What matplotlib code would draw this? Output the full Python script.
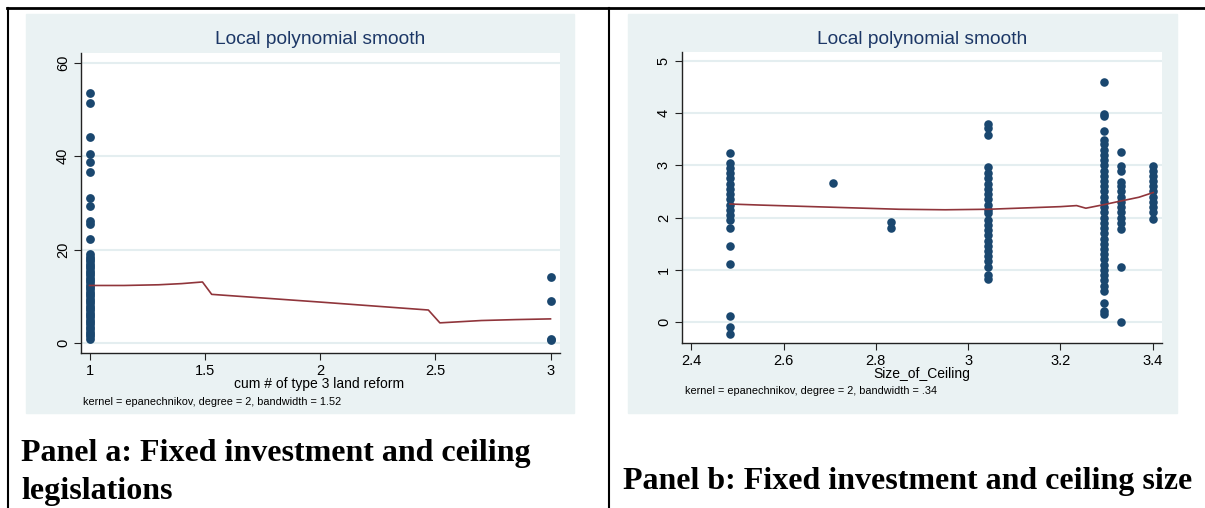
import matplotlib.pyplot as plt
from matplotlib.patches import Rectangle
from matplotlib.lines import Line2D

W, H = 1205, 508

# ---- panel a data (cum # of type 3 land reform) ----
a_x1_vals = [53.6, 51.5, 44.2, 40.5, 38.7, 36.6, 31.0, 29.4, 26.1, 25.6, 22.3,
             19.0, 18.5, 18.0, 17.5, 17.0, 16.5, 16.0, 15.5, 15.0, 14.5, 14.0,
             13.5, 13.0, 12.5, 12.0, 11.5, 11.0, 10.5, 10.0, 9.5, 9.0, 8.5, 8.0,
             7.5, 7.0, 6.5, 6.0, 5.5, 5.0, 4.5, 4.0, 3.5, 3.0, 2.5, 2.0, 1.5, 1.0]
a_x3_vals = [14.2, 9.1, 1.0, 0.7]
a_smooth_x = [1.0, 1.15, 1.3, 1.4, 1.49, 1.53, 2.0, 2.47, 2.52, 2.7, 2.85, 3.0]
a_smooth_y = [12.35, 12.35, 12.5, 12.75, 13.1, 10.45, 8.8, 7.1, 4.35, 4.85, 5.05, 5.2]
a_xticks = [1, 1.5, 2, 2.5, 3]
a_xticklabels = ["1", "1.5", "2", "2.5", "3"]
a_yticks = [0, 20, 40, 60]

# ---- panel b data (Size_of_Ceiling) ----
b_cols = {
    2.484: [3.23, 3.04, 2.95, 2.85, 2.75, 2.65, 2.55, 2.45, 2.35, 2.25, 2.15,
            2.05, 1.96, 1.81, 1.45, 1.11, 0.12, -0.10, -0.23],
    2.707: [2.67],
    2.833: [1.91, 1.81],
    3.044: [3.79, 3.71, 3.59, 2.96, 2.85, 2.75, 2.65, 2.55, 2.45, 2.35, 2.25,
            2.15, 2.08, 1.96, 1.86, 1.76, 1.66, 1.56, 1.46, 1.36, 1.26, 1.16,
            1.06, 0.90, 0.82],
    3.295: [4.59, 3.98, 3.94, 3.66, 3.49, 3.40, 3.30, 3.20, 3.10, 3.00, 2.90,
            2.80, 2.70, 2.60, 2.50, 2.40, 2.30, 2.20, 2.10, 2.00, 1.90, 1.80,
            1.70, 1.60, 1.50, 1.40, 1.30, 1.20, 1.10, 1.00, 0.90, 0.81, 0.69,
            0.60, 0.37, 0.22, 0.16],
    3.332: [3.25, 2.99, 2.90, 2.69, 2.60, 2.50, 2.40, 2.30, 2.20, 2.10, 2.00,
            1.90, 1.78, 1.06, 0.00],
    3.401: [2.99, 2.90, 2.80, 2.70, 2.60, 2.50, 2.40, 2.30, 2.20, 2.10, 1.98],
}
b_smooth_x = [2.484, 2.55, 2.7, 2.85, 2.95, 3.044, 3.2, 3.235, 3.255, 3.295, 3.332, 3.37, 3.401]
b_smooth_y = [2.26, 2.24, 2.20, 2.16, 2.15, 2.16, 2.21, 2.23, 2.18, 2.25, 2.32, 2.39, 2.48]
b_xticks = [2.4, 2.6, 2.8, 3.0, 3.2, 3.4]
b_xticklabels = ["2.4", "2.6", "2.8", "3", "3.2", "3.4"]
b_yticks = [0, 1, 2, 3, 4, 5]

DOT = "#1a476f"
LINE = "#90353b"
BG = "#eaf2f3"
GRID = "#e4eef0"
TITLE = "#1c3766"
SANS = "Liberation Sans"
SERIF = "Liberation Serif"


def fx(px):
    return px / W


def fy(py):
    return 1 - py / H


def make_axes(fig, left, top, right, bottom):
    return fig.add_axes([fx(left), fy(bottom), (right - left) / W, (bottom - top) / H])


def style_axes(ax, xticks, xlabels, yticks):
    ax.set_facecolor("white")
    for s in ["top", "right"]:
        ax.spines[s].set_visible(False)
    for s in ["left", "bottom"]:
        ax.spines[s].set_color("#222222")
        ax.spines[s].set_linewidth(1.0)
    ax.set_xticks(xticks)
    ax.set_xticklabels(xlabels, fontsize=10.5, family=SANS)
    ax.set_yticks(yticks)
    ax.set_yticklabels([str(t) for t in yticks], fontsize=10.5, family=SANS,
                       rotation=90, va="center")
    ax.tick_params(axis="both", direction="out", length=5, width=0.8, color="#222222", pad=3)
    ax.grid(axis="y", color=GRID, linewidth=1.5)
    ax.set_axisbelow(True)


fig = plt.figure(figsize=(W / 100, H / 100), dpi=100)

# table frame
fig.add_artist(Line2D([fx(7), fx(1205)], [fy(8), fy(8)], color="black", lw=2))
fig.add_artist(Line2D([fx(8), fx(8)], [fy(8), fy(508)], color="black", lw=1.5))
fig.add_artist(Line2D([fx(609), fx(609)], [fy(8), fy(508)], color="black", lw=1.5))

# stata graph region backgrounds
fig.add_artist(Rectangle((fx(26), fy(413)), (574 - 26) / W, (413 - 14) / H,
                         transform=fig.transFigure, color=BG, zorder=0))
fig.add_artist(Rectangle((fx(628), fy(413)), (1177 - 628) / W, (413 - 14) / H,
                         transform=fig.transFigure, color=BG, zorder=0))

# ---- panel a ----
ax1 = make_axes(fig, 81, 53, 559.5, 353)
ax1.scatter([1] * len(a_x1_vals), a_x1_vals, s=40, color=DOT, zorder=3, linewidths=0)
ax1.scatter([3] * len(a_x3_vals), a_x3_vals, s=40, color=DOT, zorder=3, linewidths=0)
ax1.plot(a_smooth_x, a_smooth_y, color=LINE, lw=1.2, zorder=4)
ax1.set_xlim(0.963, 3.039)
ax1.set_ylim(-2.1, 62.1)
style_axes(ax1, a_xticks, a_xticklabels, a_yticks)

fig.text(fx(320), fy(40), "Local polynomial smooth", ha="center", va="center",
         fontsize=13.8, color=TITLE, family=SANS)
fig.text(fx(319), fy(384), "cum # of type 3 land reform", ha="center", va="center",
         fontsize=10, family=SANS)
fig.text(fx(83), fy(402), "kernel = epanechnikov, degree = 2, bandwidth = 1.52",
         ha="left", va="center", fontsize=7.8, family=SANS)

# ---- panel b ----
ax2 = make_axes(fig, 682, 52, 1162, 343)
for xv, ys in b_cols.items():
    ax2.scatter([xv] * len(ys), ys, s=38, color=DOT, zorder=3, linewidths=0)
ax2.plot(b_smooth_x, b_smooth_y, color=LINE, lw=1.2, zorder=4)
ax2.set_xlim(2.38, 3.42)
ax2.set_ylim(-0.40, 5.17)
style_axes(ax2, b_xticks, b_xticklabels, b_yticks)

fig.text(fx(922), fy(39), "Local polynomial smooth", ha="center", va="center",
         fontsize=13.8, color=TITLE, family=SANS)
fig.text(fx(922), fy(374), "Size_of_Ceiling", ha="center", va="center",
         fontsize=10, family=SANS)
fig.text(fx(685), fy(391), "kernel = epanechnikov, degree = 2, bandwidth = .34",
         ha="left", va="center", fontsize=7.8, family=SANS)

# panel captions
fig.text(fx(21), fy(453), "Panel a: Fixed investment and ceiling", ha="left", va="center",
         fontsize=23, fontweight="bold", family=SERIF)
fig.text(fx(21), fy(492), "legislations", ha="left", va="center",
         fontsize=23, fontweight="bold", family=SERIF)
fig.text(fx(623), fy(481), "Panel b: Fixed investment and ceiling size", ha="left", va="center",
         fontsize=23, fontweight="bold", family=SERIF)

fig.savefig("out.png", dpi=100)
